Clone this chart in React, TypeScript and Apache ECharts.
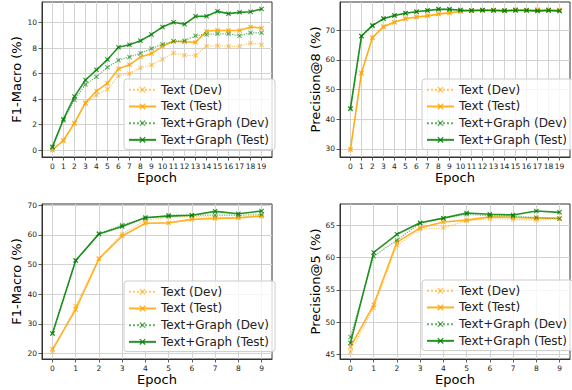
import React, { useEffect, useRef } from "react";
import * as echarts from "echarts";

// ---- data ----
const seriesNames = ["Text (Dev)", "Text (Test)", "Text+Graph (Dev)", "Text+Graph (Test)"];

const epochs20 = [0, 1, 2, 3, 4, 5, 6, 7, 8, 9, 10, 11, 12, 13, 14, 15, 16, 17, 18, 19];
const epochs10 = [0, 1, 2, 3, 4, 5, 6, 7, 8, 9];

// Top-left: F1-Macro (%) over 20 epochs
const f1TopTextDev = [0.02, 0.72, 2.07, 3.64, 4.32, 4.78, 5.81, 5.99, 6.46, 6.67, 7.13, 7.62, 7.44, 7.42, 8.17, 8.19, 8.14, 8.14, 8.4, 8.27];
const f1TopTextTest = [0.02, 0.78, 2.14, 3.72, 4.63, 5.25, 6.38, 6.69, 7.31, 7.57, 8.14, 8.53, 8.5, 8.45, 9.33, 9.4, 9.38, 9.38, 9.66, 9.56];
const f1TopGraphDev = [0.22, 2.35, 3.95, 5.14, 5.76, 6.49, 7.05, 7.31, 7.6, 7.96, 8.3, 8.53, 8.58, 8.97, 9.07, 9.12, 9.12, 8.97, 9.2, 9.2];
const f1TopGraphTest = [0.28, 2.43, 4.2, 5.5, 6.3, 7.1, 8.06, 8.27, 8.58, 9.07, 9.66, 10.03, 9.87, 10.49, 10.49, 10.88, 10.7, 10.8, 10.85, 11.06];

// Top-right: Precision@8 (%) over 20 epochs
const p8TextDev = [29.6, 55.4, 67.3, 71.0, 72.6, 73.9, 74.4, 74.8, 75.4, 75.9, 76.3, 76.6, 76.7, 76.8, 76.7, 77.0, 76.8, 77.0, 77.0, 76.9];
const p8TextTest = [29.8, 55.6, 67.5, 71.2, 72.7, 73.8, 74.4, 74.8, 75.4, 75.8, 76.3, 76.5, 76.7, 76.7, 76.6, 76.8, 76.7, 76.8, 76.8, 76.7];
const p8GraphDev = [43.4, 67.9, 71.4, 74.0, 74.9, 75.8, 76.3, 76.7, 77.1, 77.0, 76.9, 76.6, 76.8, 76.7, 76.6, 76.8, 76.7, 76.5, 76.7, 76.5];
const p8GraphTest = [43.6, 68.0, 71.6, 73.8, 74.9, 75.7, 76.2, 76.6, 77.0, 77.0, 76.7, 76.6, 76.7, 76.6, 76.5, 76.6, 76.6, 76.4, 76.6, 76.4];

// Bottom-left: F1-Macro (%) over 10 epochs
const f1BotTextDev = [20.5, 36.0, 52.0, 60.3, 64.9, 65.9, 66.2, 65.9, 65.9, 66.2];
const f1BotTextTest = [21.4, 34.8, 51.9, 59.6, 63.9, 64.0, 65.2, 65.5, 65.7, 66.3];
const f1BotGraphDev = [26.7, 51.3, 60.4, 63.3, 65.5, 66.6, 66.6, 66.6, 66.6, 66.8];
const f1BotGraphTest = [26.7, 51.3, 60.3, 62.8, 65.8, 66.3, 66.6, 67.9, 67.1, 68.0];

// Bottom-right: Precision@5 (%) over 10 epochs
const p5TextDev = [45.4, 52.2, 61.9, 64.4, 64.6, 65.7, 66.0, 65.9, 65.8, 66.0];
const p5TextTest = [46.2, 52.7, 62.4, 64.6, 65.5, 65.8, 66.3, 66.2, 66.1, 66.1];
const p5GraphDev = [47.7, 60.2, 62.7, 65.3, 66.1, 66.7, 66.5, 66.4, 66.2, 66.0];
const p5GraphTest = [46.8, 60.8, 63.6, 65.4, 66.1, 66.9, 66.7, 66.6, 67.2, 67.0];

// tick labels
const f1TopTicks = [0, 2, 4, 6, 8, 10];
const p8Ticks = [30, 40, 50, 60, 70];
const f1BotTicks = [20, 30, 40, 50, 60, 70];
const p5Ticks = [45, 50, 55, 60, 65];

const xTitle = "Epoch";
const yTitles = ["F1-Macro (%)", "Precision@8 (%)", "F1-Macro (%)", "Precision@5 (%)"];

// ---- layout / style ----
const FONT = "DejaVu Sans";
const X_SYMBOL = "path://M0,1.5L1.5,0L5,3.5L8.5,0L10,1.5L6.5,5L10,8.5L8.5,10L5,6.5L1.5,10L0,8.5L3.5,5Z";

const lineStyles = [
  { color: "#FFA500", type: "dotted", width: 1.2, opacity: 0.6 },
  { color: "#FFA500", type: "solid", width: 1.6, opacity: 0.85 },
  { color: "#008000", type: "dotted", width: 1.2, opacity: 0.6 },
  { color: "#008000", type: "solid", width: 1.6, opacity: 0.85 },
];

const panels = [
  { xs: epochs20, ys: [f1TopTextDev, f1TopTextTest, f1TopGraphDev, f1TopGraphTest], ticks: f1TopTicks, grid: { left: 42, top: 2, width: 230, height: 155 }, legend: { left: 124, top: 79 }, nameGap: 19 },
  { xs: epochs20, ys: [p8TextDev, p8TextTest, p8GraphDev, p8GraphTest], ticks: p8Ticks, grid: { left: 340, top: 2, width: 230, height: 155 }, legend: { left: 422, top: 79 }, nameGap: 15 },
  { xs: epochs10, ys: [f1BotTextDev, f1BotTextTest, f1BotGraphDev, f1BotGraphTest], ticks: f1BotTicks, grid: { left: 42, top: 204, width: 230, height: 155 }, legend: { left: 124, top: 281 }, nameGap: 19 },
  { xs: epochs10, ys: [p5TextDev, p5TextTest, p5GraphDev, p5GraphTest], ticks: p5Ticks, grid: { left: 340, top: 204, width: 230, height: 155 }, legend: { left: 422, top: 280 }, nameGap: 15 },
];

function padded(values: number[]) {
  const mn = Math.min(...values);
  const mx = Math.max(...values);
  const r = mx - mn;
  return [mn - 0.05 * r, mx + 0.05 * r];
}

function buildOption() {
  const grid: any[] = [];
  const xAxis: any[] = [];
  const yAxis: any[] = [];
  const series: any[] = [];
  const legend: any[] = [];

  panels.forEach((p, pi) => {
    grid.push({ ...p.grid, show: true, borderColor: "#333", borderWidth: 1, backgroundColor: "transparent", containLabel: false });
    const [xmin, xmax] = padded(p.xs);
    const [ymin, ymax] = padded(([] as number[]).concat(...p.ys));
    xAxis.push({
      type: "value",
      gridIndex: pi,
      min: xmin,
      max: xmax,
      name: xTitle,
      nameLocation: "middle",
      nameGap: 11,
      nameTextStyle: { fontSize: 13, color: "#000", fontFamily: FONT },
      axisLine: { show: true, onZero: false, lineStyle: { color: "#333", width: 1 } },
      axisTick: { show: true, inside: false, length: 3.5, lineStyle: { color: "#333", width: 0.8 }, customValues: p.xs },
      axisLabel: { customValues: p.xs, fontSize: 7.5, color: "#222", margin: 5, fontFamily: FONT },
      splitLine: { show: true, lineStyle: { color: "#d3d3d3", width: 1 } },
    });
    yAxis.push({
      type: "value",
      gridIndex: pi,
      min: ymin,
      max: ymax,
      name: yTitles[pi],
      nameLocation: "middle",
      nameGap: p.nameGap,
      nameTextStyle: { fontSize: 13, color: "#000", fontFamily: FONT },
      axisLine: { show: true, onZero: false, lineStyle: { color: "#333", width: 1 } },
      axisTick: { show: true, inside: false, length: 3.5, lineStyle: { color: "#333", width: 0.8 }, customValues: p.ticks },
      axisLabel: { customValues: p.ticks, fontSize: 7.5, color: "#222", margin: 5, fontFamily: FONT },
      splitLine: { show: true, lineStyle: { color: "#d3d3d3", width: 1 } },
    });
    p.ys.forEach((vals, k) => {
      const st = lineStyles[k];
      series.push({
        type: "line",
        name: seriesNames[k],
        xAxisIndex: pi,
        yAxisIndex: pi,
        data: p.xs.map((x, i) => [x, vals[i]]),
        symbol: X_SYMBOL,
        symbolSize: 5,
        showSymbol: true,
        silent: true,
        z: 2 + k,
        lineStyle: { color: st.color, type: st.type, width: st.width, opacity: st.opacity },
        itemStyle: { color: st.color, opacity: st.opacity },
        emphasis: { disabled: true },
      });
    });
    legend.push({
      left: p.legend.left,
      top: p.legend.top,
      orient: "vertical",
      data: seriesNames,
      selectedMode: false,
      itemWidth: 27,
      itemHeight: 8,
      itemGap: 3.2,
      padding: [4, 6, 3, 4],
      backgroundColor: "rgba(255,255,255,0.8)",
      borderColor: "#cccccc",
      borderWidth: 1,
      borderRadius: 3,
      z: 10,
      textStyle: { fontSize: 12, lineHeight: 13.5, color: "#222", fontFamily: FONT },
    });
  });

  return {
    animation: false,
    textStyle: { fontFamily: FONT },
    grid,
    xAxis,
    yAxis,
    series,
    legend,
  };
}

export default function App() {
  const ref = useRef<HTMLDivElement>(null);
  useEffect(() => {
    if (!ref.current) return;
    const chart = echarts.init(ref.current, undefined, { renderer: "svg" });
    chart.setOption(buildOption() as any);
    return () => chart.dispose();
  }, []);
  return (
    <div
      ref={ref}
      style={{ position: "absolute", left: 0, top: 0, width: 572, height: 390, background: "#fff" }}
    />
  );
}
